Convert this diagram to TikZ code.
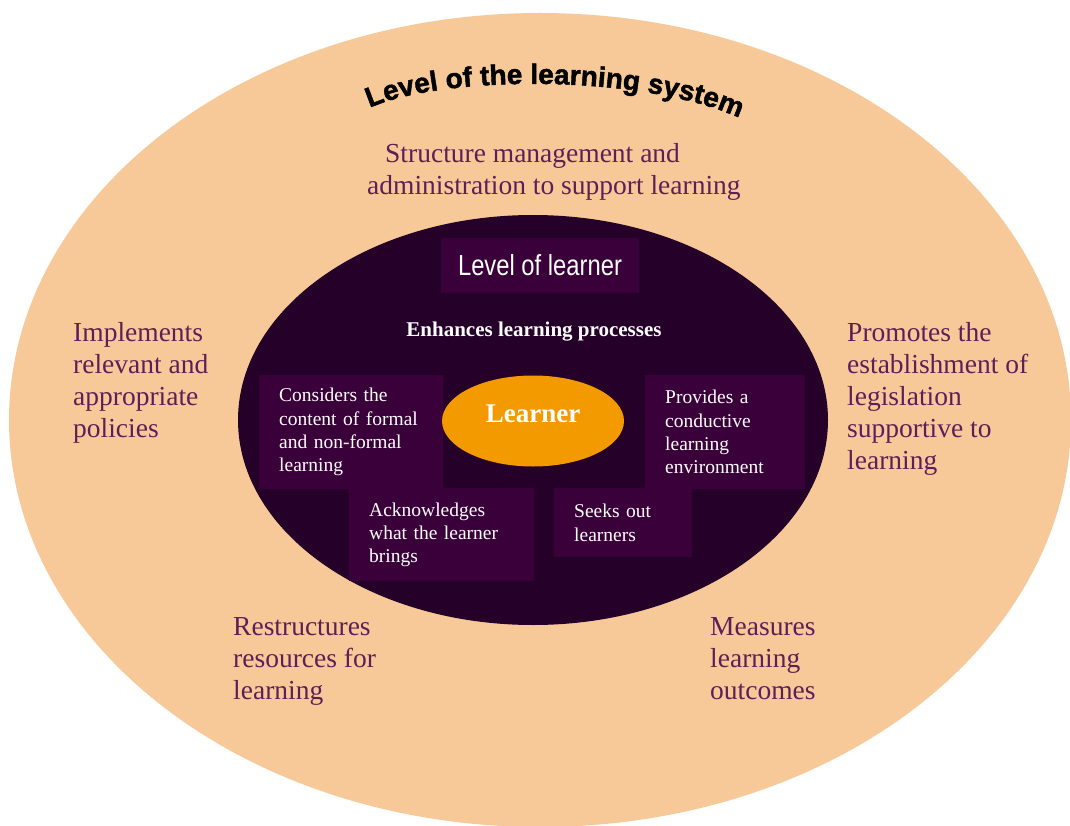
\documentclass[tikz,border=0pt]{standalone}
\usepackage{fontspec}
\setmainfont{Liberation Serif}
\newfontfamily\headfont[BoldFeatures={FakeBold=1.6}]{Liberation Sans}
\newfontfamily\narrowfont[FakeStretch=0.82]{Liberation Sans}
\usepackage{xcolor}
\usetikzlibrary{shapes.geometric, decorations.text}

\definecolor{SystemPeach}{HTML}{F7C999}
\definecolor{LearnerDark}{HTML}{250029}
\definecolor{BoxPurple}{HTML}{3A003A}
\definecolor{LearnerOrange}{HTML}{F39A00}
\definecolor{TextPlum}{HTML}{5E1F57}

\begin{document}
\begin{tikzpicture}[x=1pt, y=-1pt,
	outer/.style={anchor=north west, inner sep=0pt, align=left, text=TextPlum, font=\fontsize{27.5}{32}\selectfont},
	inbox/.style={anchor=north west, fill=BoxPurple, text=white, align=left, inner xsep=20pt, inner ysep=0pt, font=\fontsize{19.5}{23.3}\selectfont}]
	\useasboundingbox (0,0) rectangle (1070,826);
	\clip (0,0) rectangle (1070,826);

	\fill[SystemPeach] (540,420) ellipse [x radius=531pt, y radius=407pt];
	\fill[LearnerDark] (533,420) ellipse [x radius=295pt, y radius=205pt];

	% arched title
	\path[decorate, decoration={text along path, text align=center,
		text={|\headfont\bfseries\fontsize{28}{28}\selectfont|Level of the learning system}}]
		(374,106) .. controls (450,75) and (640,75) .. (735,116);

	\node[outer] (structure) at (367,143) {\hspace*{18pt}Structure management and\\administration to support learning};
	\node[outer] (policies) at (73,322) {Implements\\relevant and\\appropriate\\policies};
	\node[outer] (legislation) at (847,322) {Promotes the\\establishment of\\legislation\\supportive to\\learning};
	\node[outer] (resources) at (233,617) {Restructures\\resources for\\learning};
	\node[outer] (outcomes) at (710,617) {Measures\\learning\\outcomes};

	\node[fill=BoxPurple, minimum width=198pt, minimum height=55pt, inner sep=0pt, text=white,
		font=\narrowfont\fontsize{29}{29}\selectfont] (learnerlevel) at (540,265.5) {\raisebox{-3pt}{Level of learner}};
	\node[text=white, font=\bfseries\fontsize{21}{21}\selectfont] (processes) at (534,332) {Enhances learning processes};

	\node[inbox, text width=144pt, minimum height=114pt] (content) at (259,375) {Considers the\\content of formal\\and non-formal\\learning};
	\node[inbox, text width=120pt, minimum height=114pt] (environment) at (645,375) {Provides a\\conductive\\learning\\environment};
	\node[inbox, text width=145pt, minimum height=93pt] (brings) at (349,488) {Acknowledges\\what the learner\\brings};
	\node[inbox, text width=98pt, minimum height=69pt] (seeks) at (554,488) {Seeks out\\learners};

	\node[ellipse, fill=LearnerOrange, minimum width=182pt, minimum height=91pt, inner sep=0pt, text=white,
		font=\bfseries\fontsize{27}{27}\selectfont] (learner) at (533,421) {\raisebox{14pt}{Learner}};
\end{tikzpicture}
\end{document}
